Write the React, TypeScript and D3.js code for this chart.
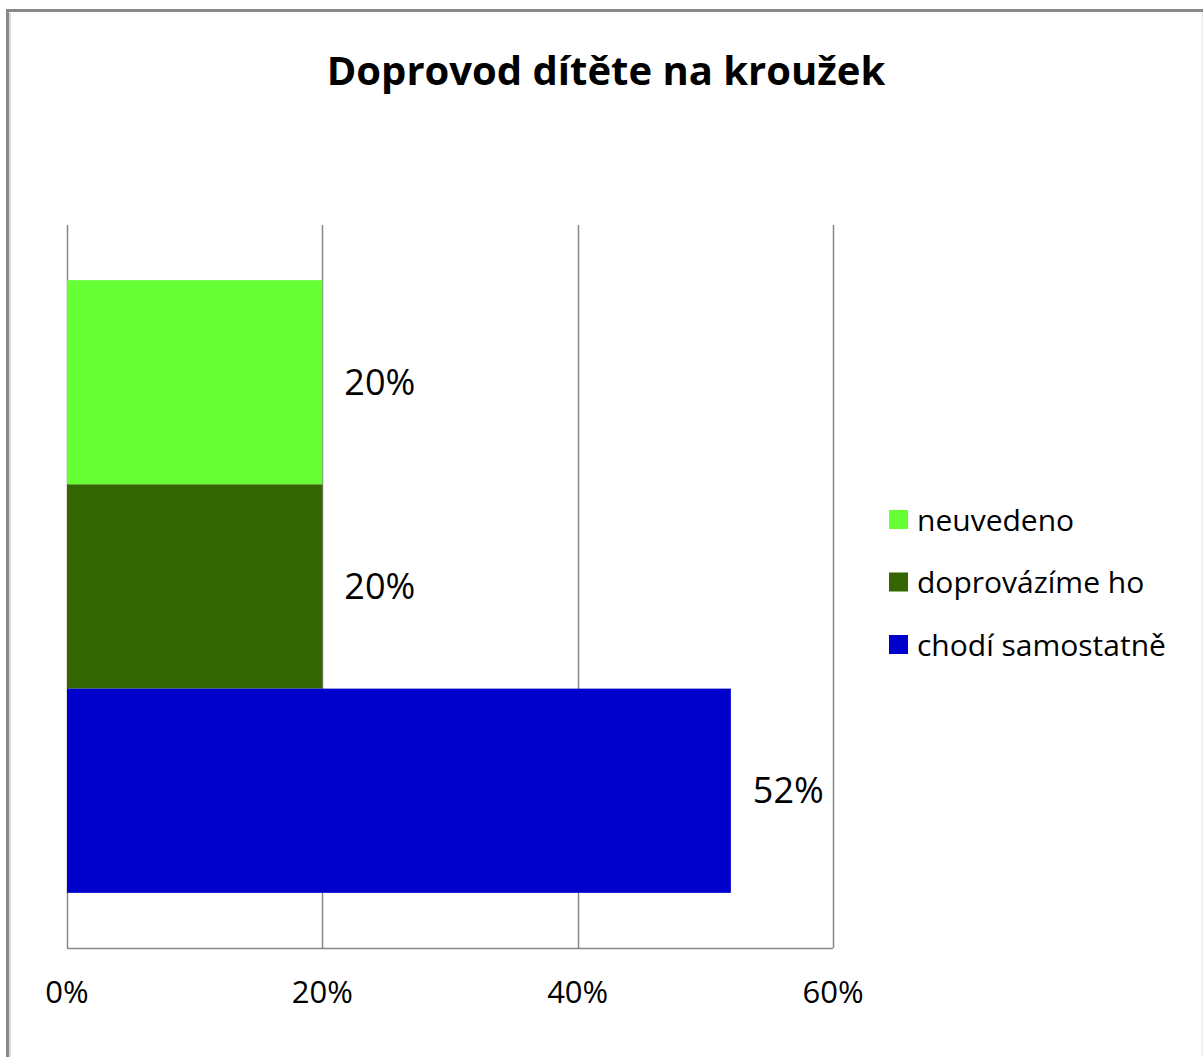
import React from "react";
import * as d3 from "d3";

const title = "Doprovod dítěte na kroužek";
const series = ["neuvedeno", "doprovázíme ho", "chodí samostatně"];
const values = [0.2, 0.2, 0.52];
const colors = ["#66ff33", "#336600", "#0000cc"];
const ticks = [0, 0.2, 0.4, 0.6];

const W = 1203;
const H = 1057;
const plot = { left: 67, right: 833, top: 225, bottom: 948 };
const FONT = "'Open Sans', 'Noto Sans', sans-serif";

export default function App() {
  const x = d3.scaleLinear().domain([0, 0.6]).range([plot.left, plot.right]);
  const y = d3
    .scaleBand<string>()
    .domain(series)
    .range([plot.top, plot.bottom])
    .paddingInner(0)
    .paddingOuter(0.27);
  const pct = d3.format(".0%");

  return (
    <svg
      width={W}
      height={H}
      style={{ position: "absolute", left: 0, top: 0, background: "#fff" }}
      fontFamily={FONT}
    >
      <rect x={0} y={0} width={W} height={H} fill="#fff" />
      {/* chart frame */}
      <line x1={1202} y1={11} x2={1202} y2={H} stroke="#e4e4e4" strokeWidth={1} />
      <line x1={10} y1={13} x2={10} y2={H} stroke="#d8d8d8" strokeWidth={2} />
      <line x1={7.5} y1={10} x2={7.5} y2={H} stroke="#888" strokeWidth={3} />
      <line x1={6} y1={10.5} x2={1203} y2={10.5} stroke="#888" strokeWidth={3} />

      <text
        x={606}
        y={85}
        textAnchor="middle"
        fontSize={40}
        fontWeight="bold"
        fill="#000"
      >
        {title}
      </text>

      {/* gridlines */}
      {ticks.map((t) => (
        <line
          key={"g" + t}
          x1={Math.round(x(t)) + 0.5}
          x2={Math.round(x(t)) + 0.5}
          y1={plot.top}
          y2={plot.bottom}
          stroke="#888"
          strokeWidth={1.5}
        />
      ))}
      <line
        x1={plot.left}
        x2={plot.right}
        y1={plot.bottom + 0.5}
        y2={plot.bottom + 0.5}
        stroke="#888"
        strokeWidth={1.5}
      />

      {/* bars */}
      {series.map((s, i) => (
        <rect
          key={s}
          x={x(0)}
          y={y(s)!}
          width={x(values[i]) - x(0)}
          height={y.bandwidth()}
          fill={colors[i]}
        />
      ))}

      {/* data labels */}
      {series.map((s, i) => (
        <text
          key={"l" + s}
          x={x(values[i]) + 22}
          y={y(s)! + y.bandwidth() / 2}
          dy="0.35em"
          fontSize={36}
          fill="#000"
        >
          {pct(values[i])}
        </text>
      ))}

      {/* tick labels */}
      {ticks.map((t) => (
        <text
          key={"t" + t}
          x={x(t)}
          y={1003}
          textAnchor="middle"
          fontSize={31}
          fill="#000"
        >
          {pct(t)}
        </text>
      ))}

      {/* legend */}
      {series.map((s, i) => (
        <g key={"lg" + s} transform={`translate(889, ${520 + i * 62.5})`}>
          <rect x={0} y={-10} width={19} height={19} fill={colors[i]} />
          <text x={28} y={0} dy="0.35em" fontSize={30} fill="#000">
            {s}
          </text>
        </g>
      ))}
    </svg>
  );
}
